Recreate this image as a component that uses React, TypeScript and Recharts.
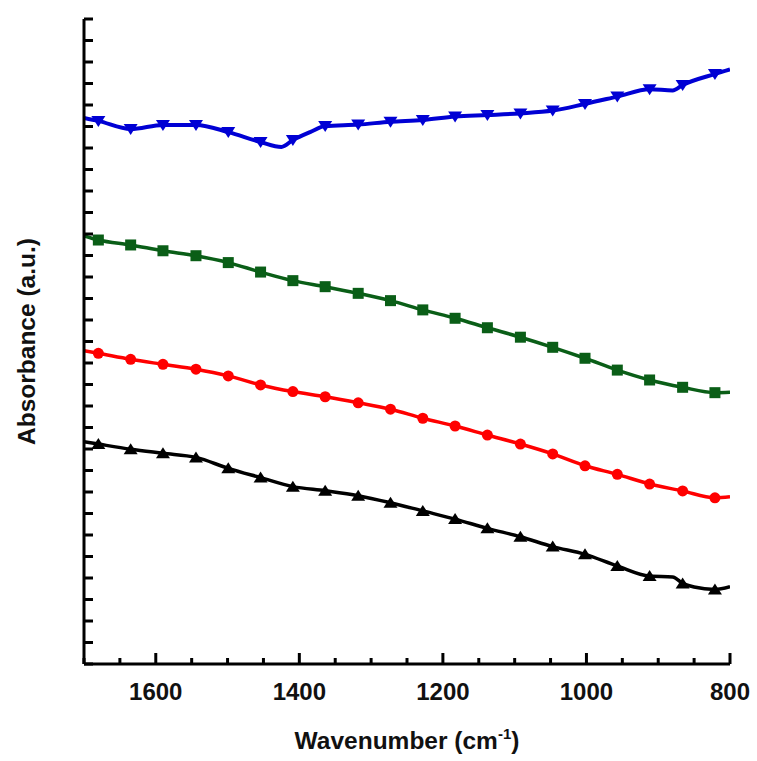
import { LineChart, Line, XAxis, YAxis } from "recharts";

// wavenumbers where the symbols sit (shared by all four spectra)
const markerWn = [1680, 1635, 1590, 1544, 1499, 1454, 1409, 1364, 1318, 1273, 1228, 1183, 1138, 1092, 1047, 1002, 957, 912, 866, 821];

const blueMarks = [2.526, 2.488, 2.507, 2.507, 2.474, 2.428, 2.437, 2.502, 2.509, 2.522, 2.53, 2.546, 2.553, 2.561, 2.574, 2.605, 2.639, 2.673, 2.693, 2.744];
const blueExtraWn = [1700, 1425, 1385, 880, 800];
const blueExtraVal = [2.54, 2.405, 2.474, 2.668, 2.765];

const greenMarks = [1.972, 1.949, 1.922, 1.899, 1.867, 1.823, 1.783, 1.755, 1.724, 1.69, 1.647, 1.608, 1.564, 1.52, 1.473, 1.422, 1.367, 1.321, 1.287, 1.262];
const greenExtraWn = [1700, 800];
const greenExtraVal = [1.991, 1.264];

const redMarks = [1.445, 1.417, 1.394, 1.371, 1.34, 1.298, 1.267, 1.243, 1.215, 1.185, 1.143, 1.107, 1.065, 1.023, 0.977, 0.922, 0.882, 0.837, 0.805, 0.773];
const redExtraWn = [1700, 800];
const redExtraVal = [1.457, 0.778];

const blackMarks = [1.023, 0.999, 0.98, 0.961, 0.91, 0.867, 0.825, 0.806, 0.783, 0.75, 0.712, 0.674, 0.631, 0.592, 0.546, 0.51, 0.456, 0.409, 0.375, 0.347];
const blackExtraWn = [1700, 880, 850, 800];
const blackExtraVal = [1.034, 0.405, 0.358, 0.36];

const xTicks = [1700, 1650, 1600, 1550, 1500, 1450, 1400, 1350, 1300, 1250, 1200, 1150, 1100, 1050, 1000, 950, 900, 850, 800];
const yTicks = Array.from({ length: 31 }, (_, i) => Math.round(i * 10) / 100);

const FONT = "Arial, 'Liberation Sans', sans-serif";

type Pt = { wn: number; v: number; m: boolean };

function build(marks: number[], extraWn: number[], extraVal: number[]): Pt[] {
  const pts: Pt[] = markerWn.map((wn, i) => ({ wn, v: marks[i], m: true }));
  extraWn.forEach((wn, i) => pts.push({ wn, v: extraVal[i], m: false }));
  return pts.sort((a, b) => b.wn - a.wn);
}

const blueData = build(blueMarks, blueExtraWn, blueExtraVal);
const greenData = build(greenMarks, greenExtraWn, greenExtraVal);
const redData = build(redMarks, redExtraWn, redExtraVal);
const blackData = build(blackMarks, blackExtraWn, blackExtraVal);

// eslint-disable-next-line @typescript-eslint/no-explicit-any
function marker(shape: string, color: string) {
  return (p: any) => {
    const { cx, cy, payload, index } = p;
    if (!payload?.m || cx == null) return <g key={index} />;
    if (shape === "down")
      return <polygon key={index} points={`${cx - 7},${cy - 5} ${cx + 7},${cy - 5} ${cx},${cy + 6}`} fill={color} />;
    if (shape === "up")
      return <polygon key={index} points={`${cx - 7},${cy + 5} ${cx + 7},${cy + 5} ${cx},${cy - 6}`} fill={color} />;
    if (shape === "square")
      return <rect key={index} x={cx - 5.5} y={cy - 5.5} width={11} height={11} fill={color} />;
    return <circle key={index} cx={cx} cy={cy} r={5.5} fill={color} />;
  };
}

// eslint-disable-next-line @typescript-eslint/no-explicit-any
function XTick({ x, y, payload }: any) {
  const major = payload.value % 200 === 0;
  return (
    <g>
      <line x1={x} x2={x} y1={y} y2={y - (major ? 11 : 6)} stroke="#000" strokeWidth={3} />
      {major && (
        <text x={x} y={y + 36} textAnchor="middle" fontSize={24} fontWeight="bold" fontFamily={FONT} fill="#111">
          {payload.value}
        </text>
      )}
    </g>
  );
}

// eslint-disable-next-line @typescript-eslint/no-explicit-any
function YTick({ x, y }: any) {
  return <line x1={x} x2={x + 9} y1={y} y2={y} stroke="#000" strokeWidth={3} />;
}

// eslint-disable-next-line @typescript-eslint/no-explicit-any
function XTitle({ viewBox }: any) {
  const cx = viewBox.x + viewBox.width / 2;
  return (
    <text x={cx} y={viewBox.y + 85} textAnchor="middle" fontSize={24.5} fontWeight="bold" fontFamily={FONT} fill="#111">
      Wavenumber (cm
      <tspan dy={-10} fontSize={15}>-1</tspan>
      <tspan dy={10}>)</tspan>
    </text>
  );
}

// eslint-disable-next-line @typescript-eslint/no-explicit-any
function YTitle({ viewBox }: any) {
  const cy = viewBox.y + viewBox.height / 2;
  return (
    <text x={35} y={cy} transform={`rotate(-90, 35, ${cy})`} textAnchor="middle" fontSize={24.5} fontWeight="bold" fontFamily={FONT} fill="#111">
      Absorbance (a.u.)
    </text>
  );
}

export default function App() {
  return (
    <div style={{ position: "absolute", left: 0, top: 0, background: "#fff" }}>
      <LineChart width={757} height={761} margin={{ top: 19, right: 27, bottom: 0, left: 0 }}>
        <XAxis
          dataKey="wn"
          type="number"
          domain={[800, 1700]}
          reversed
          ticks={xTicks}
          interval={0}
          height={97}
          tickSize={0}
          tickMargin={0}
          tickLine={false}
          tick={<XTick />}
          axisLine={{ stroke: "#000", strokeWidth: 3 }}
          label={(p: any) => <XTitle {...p} />}
          allowDataOverflow
        />
        <YAxis
          type="number"
          domain={[0, 3]}
          ticks={yTicks}
          interval={0}
          width={84}
          tickSize={0}
          tickMargin={0}
          tickLine={false}
          tick={<YTick />}
          axisLine={{ stroke: "#000", strokeWidth: 3 }}
          label={(p: any) => <YTitle {...p} />}
          allowDataOverflow
        />
        <Line data={blackData} dataKey="v" type="monotone" stroke="#000" strokeWidth={3.5} dot={marker("up", "#000")} isAnimationActive={false} />
        <Line data={redData} dataKey="v" type="monotone" stroke="#ff0000" strokeWidth={3.5} dot={marker("circle", "#ff0000")} isAnimationActive={false} />
        <Line data={greenData} dataKey="v" type="monotone" stroke="#0a5e17" strokeWidth={3.5} dot={marker("square", "#0a5e17")} isAnimationActive={false} />
        <Line data={blueData} dataKey="v" type="monotone" stroke="#0000d4" strokeWidth={4} dot={marker("down", "#0000d4")} isAnimationActive={false} />
      </LineChart>
    </div>
  );
}
